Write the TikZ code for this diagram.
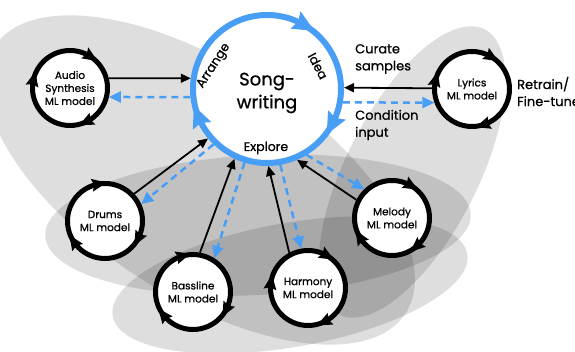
\documentclass[tikz,border=0pt]{standalone}
\usepackage{fontspec}
\setmainfont{Poppins}[FakeBold=0.8]
\usetikzlibrary{arrows.meta}
\definecolor{ringblue}{RGB}{72,157,245}
\newcommand{\ringtip}[6]{\fill[#6, shift={(#1)}, rotate=#2] (#3,-0.55*#4) -- (#3-0.5*#5,0.45*#4) -- (#3,0.3*#4) -- (#3+0.5*#5,0.45*#4) -- cycle;}
\begin{document}
\begin{tikzpicture}[x=1pt,y=1pt,
  blob/.style={fill=black, fill opacity=0.13},
  mlnode/.style={circle, draw=black, line width=5pt, fill=white, minimum size=75pt, inner sep=0pt, align=center, font=\fontsize{10.5}{13}\selectfont},
  songnode/.style={circle, draw=ringblue, line width=6pt, fill=white, minimum size=148pt},
  fwd/.style={line width=1.8pt, -{Triangle[length=10pt,width=9pt]}},
  back/.style={ringblue, line width=2.5pt, dash pattern=on 7pt off 5pt, -{Triangle[length=12pt,width=11pt]}},
  lbl/.style={font=\fontsize{13}{17}\selectfont, align=left, inner sep=0pt},
  ringlbl/.style={font=\fontsize{12.5}{15}\selectfont, inner sep=0pt}]
\useasboundingbox (0,0) rectangle (575,352);
% background blobs
\fill[blob, rotate around={-33:(200,172)}] (200,172) ellipse [x radius=245, y radius=115];
\fill[blob, rotate around={63:(412,180)}] (412,180) ellipse [x radius=160, y radius=66];
\fill[blob, rotate around={3:(258,127)}] (258,127) ellipse [x radius=213, y radius=70];
\fill[blob, rotate around={10:(290,67)}] (290,67) ellipse [x radius=180, y radius=62];
% nodes
\node[songnode] (song) at (267,263) {};
\node[font=\fontsize{18}{23}\selectfont, align=center, inner sep=0pt] (songtxt) at (267,259) {Song-\\writing};
\node[ringlbl, rotate=57] (arrange) at (214,286) {Arrange};
\node[ringlbl, rotate=-62] (idea) at (318,286) {Idea};
\node[ringlbl] (explore) at (266,204) {Explore};
\node[mlnode] (audio) at (70,264) {Audio\\Synthesis\\ML model};
\node[mlnode] (lyrics) at (472,263) {Lyrics\\ML model};
\node[mlnode] (drums) at (105,131) {Drums\\ML model};
\node[mlnode] (bass) at (193,60) {Bassline\\ML model};
\node[mlnode] (harmony) at (308,64) {Harmony\\ML model};
\node[mlnode] (melody) at (392,134) {Melody\\ML model};
\node[lbl, anchor=west] (curate) at (355,293) {Curate\\samples};
\node[lbl, anchor=west] (cond) at (355,227) {Condition\\input};
\node[lbl, anchor=west] (retrain) at (517,260.5) {Retrain/\\Fine-tune};
% connectors
\draw[fwd] (audio.14) -- (song.172);
\draw[back] (song.186) -- (audio.-13);
\draw[fwd] (lyrics.179) -- (song.1);
\draw[back] (song.-10.5) -- (lyrics.200);
\draw[fwd] (drums.43) -- (song.220);
\draw[back] (song.226) -- (drums.25);
\draw[fwd] (bass.80) -- (song.245);
\draw[back] (song.253) -- (bass.58);
\draw[fwd] (harmony.118) -- (song.271);
\draw[back] (song.280) -- (harmony.100);
\draw[fwd] (melody.153) -- (song.293);
\draw[back] (song.301) -- (melody.134);
% ring arrowheads
\ringtip{song}{60}{74}{22}{20}{ringblue}
\ringtip{song}{-28}{74}{22}{20}{ringblue}
\ringtip{song}{202}{74}{22}{20}{ringblue}
\ringtip{audio}{57}{37.5}{15}{13}{black}
\ringtip{audio}{167}{37.5}{15}{13}{black}
\ringtip{audio}{-64}{37.5}{15}{13}{black}
\ringtip{lyrics}{59}{37.5}{15}{13}{black}
\ringtip{lyrics}{166}{37.5}{15}{13}{black}
\ringtip{lyrics}{-72}{37.5}{15}{13}{black}
\ringtip{drums}{100}{37.5}{15}{13}{black}
\ringtip{drums}{214}{37.5}{15}{13}{black}
\ringtip{drums}{-28}{37.5}{15}{13}{black}
\ringtip{bass}{106}{37.5}{15}{13}{black}
\ringtip{bass}{218}{37.5}{15}{13}{black}
\ringtip{bass}{-28}{37.5}{15}{13}{black}
\ringtip{harmony}{60}{37.5}{15}{13}{black}
\ringtip{harmony}{172}{37.5}{15}{13}{black}
\ringtip{harmony}{-64}{37.5}{15}{13}{black}
\ringtip{melody}{60}{37.5}{15}{13}{black}
\ringtip{melody}{211}{37.5}{15}{13}{black}
\ringtip{melody}{-49}{37.5}{15}{13}{black}
\end{tikzpicture}
\end{document}
